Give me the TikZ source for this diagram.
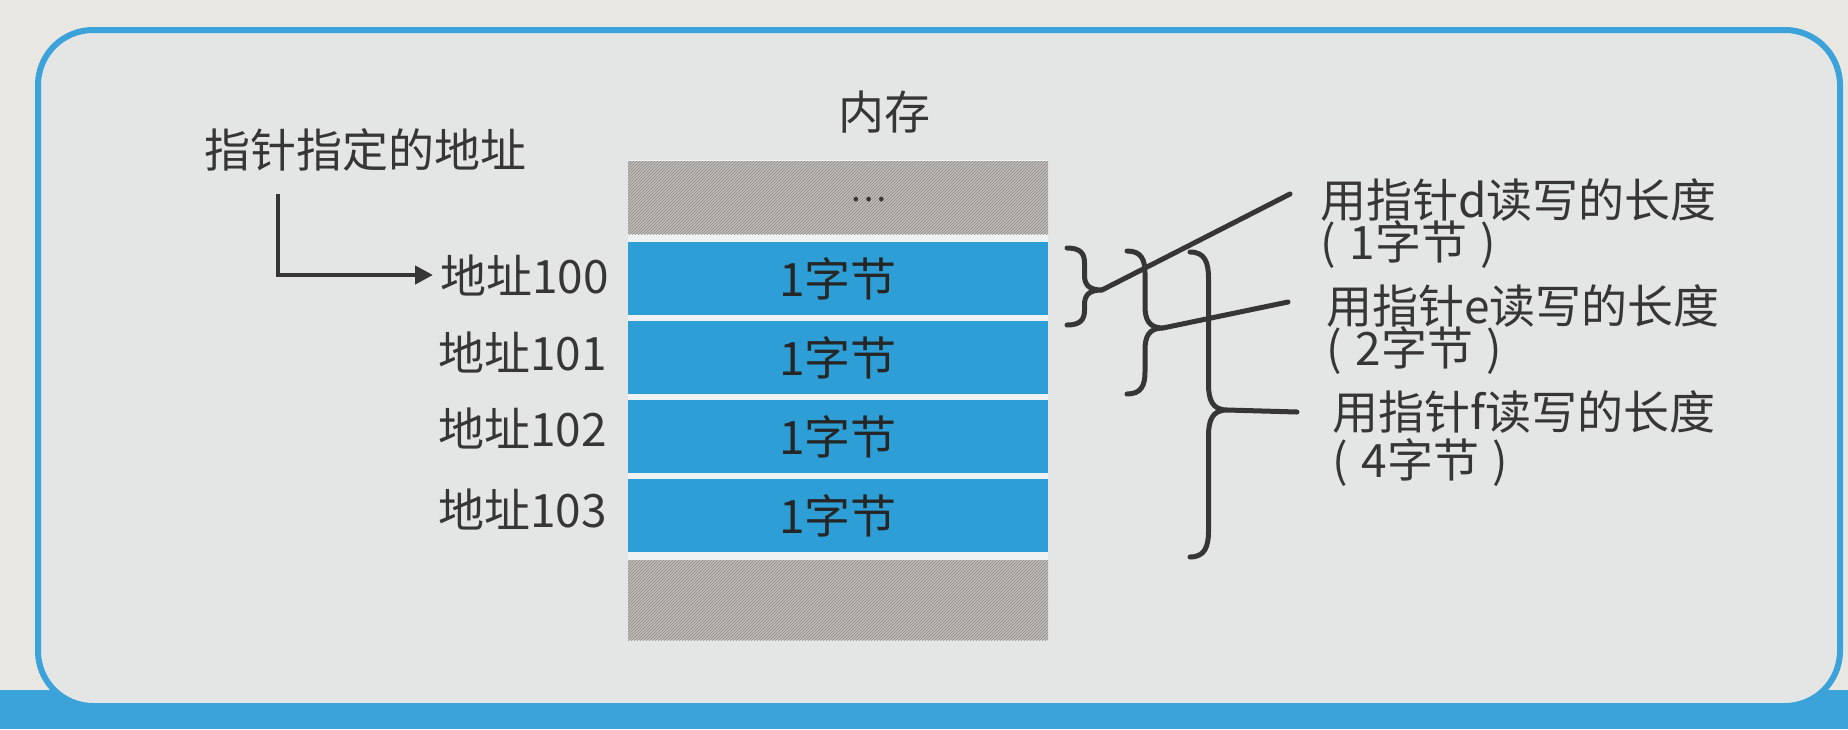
\documentclass[tikz,border=0pt]{standalone}
\usepackage{fontspec}
\setmainfont{Noto Sans CJK SC}
\usetikzlibrary{arrows.meta,patterns}
\definecolor{pagebg}{HTML}{E9E7E2}
\definecolor{panelbg}{HTML}{E4E6E5}
\definecolor{frameblue}{HTML}{3BA2DA}
\definecolor{cellblue}{HTML}{2E9FD6}
\definecolor{cellgray}{HTML}{BFBCB9}
\definecolor{hatchc}{HTML}{8E8B88}
\definecolor{gapwhite}{HTML}{EEF2F3}
\definecolor{ink}{HTML}{363636}
\newcommand\handbrace[6]{%
  \draw[bracestyle] (#1,#2) .. controls ({#1+0.4*#5},#2) and ({#1+0.5*#5},{#2+0.4*#6}) .. ({#1+0.5*#5},{#2+#6})
    -- ({#1+0.5*#5},{#3-#6}) .. controls ({#1+0.5*#5},{#3-0.4*#6}) and ({#1+0.6*#5},#3) .. ({#1+#5},#3)
    .. controls ({#1+0.6*#5},#3) and ({#1+0.5*#5},{#3+0.4*#6}) .. ({#1+0.5*#5},{#3+#6})
    -- ({#1+0.5*#5},{#4-#6}) .. controls ({#1+0.5*#5},{#4-0.4*#6}) and ({#1+0.4*#5},#4) .. (#1,#4);}
\newcommand\paren[1]{(\hspace{0.3em}#1\hspace{0.3em})}
\begin{document}
\begin{tikzpicture}[x=1pt,y=-1pt,
  txt/.style={font=\fontsize{46}{50}\selectfont, text=ink, inner sep=3pt},
  celltxt/.style={font=\fontsize{46}{50}\selectfont, text=black!85},
  bluecell/.style={fill=cellblue, minimum width=420pt, minimum height=73pt, inner sep=0pt, anchor=north west},
  graycell/.style={preaction={fill=cellgray}, pattern=north east lines, pattern color=hatchc, minimum width=420pt, inner sep=0pt, anchor=north west},
  bracestyle/.style={draw=ink, line width=5pt, line cap=round},
  linkline/.style={draw=ink, line width=5pt, line cap=round},
  arrowline/.style={draw=ink, line width=4.5pt, -{Triangle[length=18pt,width=18pt]}}]
\useasboundingbox (0,0) rectangle (1848,729);
% page and frame
\fill[pagebg] (0,0) rectangle (1848,729);
\fill[frameblue] (0,690) rectangle (1848,729);
\draw[frameblue, line width=6pt, fill=panelbg, rounded corners=55pt] (38,30) rectangle (1840,706);
% memory column
\fill[gapwhite] (628,160) rectangle (1048,640);
\node[graycell, minimum height=73pt] (gtop) at (628,161) {};
\node[bluecell] (c1) at (628,242) {};
\node[bluecell] (c2) at (628,321) {};
\node[bluecell] (c3) at (628,400) {};
\node[bluecell] (c4) at (628,479) {};
\node[graycell, minimum height=80pt] (gbot) at (628,560) {};
\node[celltxt] (t1) at (c1.center) {1字节};
\node[celltxt] (t2) at (c2.center) {1字节};
\node[celltxt] (t3) at (c3.center) {1字节};
\node[celltxt] (t4) at (c4.center) {1字节};
\node[font=\fontsize{34}{36}\selectfont, text=ink] (dots) at (868,200) {…};
\node[txt] (mem) at (884,112) {内存};
% left side
\node[txt] (title) at (365,150) {指针指定的地址};
\node[txt, anchor=east] (a100) at (612,275) {地址100};
\node[txt, anchor=east] (a101) at (610,352) {地址101};
\node[txt, anchor=east] (a102) at (610,428) {地址102};
\node[txt, anchor=east] (a103) at (610,509) {地址103};
\coordinate (arrstart) at (278,194);
\draw[arrowline] (arrstart) |- ([xshift=-4pt]a100.west);
% right labels
\node[txt, anchor=west] (d1) at (1317,200) {用指针d读写的长度};
\node[txt, anchor=west] (d2) at (1317,245) {\paren{1字节}};
\node[txt, anchor=west] (e1) at (1323,306) {用指针e读写的长度};
\node[txt, anchor=west] (e2) at (1323,351) {\paren{2字节}};
\node[txt, anchor=west] (f1) at (1329,412) {用指针f读写的长度};
\node[txt, anchor=west] (f2) at (1329,463) {\paren{4字节}};
% braces
\handbrace{1067}{248}{290}{325}{35}{15}
\handbrace{1127}{251}{328}{394}{36}{22}
\handbrace{1190}{252}{410}{557}{37}{26}
\coordinate (tipd) at (1102,290);
\coordinate (tipe) at (1163,328);
\coordinate (tipf) at (1227,410);
\draw[linkline] (tipd) -- ([xshift=-27pt,yshift=6pt]d1.west);
\draw[linkline] (tipe) -- ([xshift=-35pt,yshift=4pt]e1.west);
\draw[linkline] (tipf) -- ([xshift=-32pt]f1.west);
\end{tikzpicture}
\end{document}
